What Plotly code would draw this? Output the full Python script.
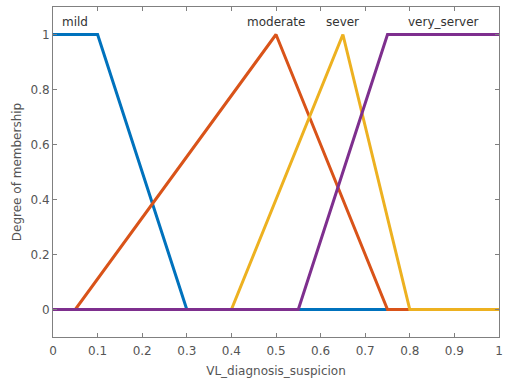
import plotly.graph_objects as go

x_mild = [0, 0.1, 0.3, 1]
y_mild = [1, 1, 0, 0]
x_moderate = [0, 0.05, 0.5, 0.75, 1]
y_moderate = [0, 0, 1, 0, 0]
x_sever = [0, 0.4, 0.65, 0.8, 1]
y_sever = [0, 0, 1, 0, 0]
x_very = [0, 0.55, 0.75, 1]
y_very = [0, 0, 1, 1]

names = ["mild", "moderate", "sever", "very_server"]
label_x = [0.05, 0.5, 0.65, 0.875]
colors = ["#0072BD", "#D95319", "#EDB120", "#7E2F8E"]

xticks = [0, 0.1, 0.2, 0.3, 0.4, 0.5, 0.6, 0.7, 0.8, 0.9, 1]
yticks = [0, 0.2, 0.4, 0.6, 0.8, 1]

FONT = "DejaVu Sans, Liberation Sans, Arial"

fig = go.Figure()
for xs, ys, c, n in zip([x_mild, x_moderate, x_sever, x_very],
                        [y_mild, y_moderate, y_sever, y_very], colors, names):
    fig.add_trace(go.Scatter(x=xs, y=ys, mode="lines", name=n,
                             line=dict(color=c, width=3), showlegend=False))

for lx, n in zip(label_x, names):
    fig.add_annotation(x=lx, y=1.045, text=n, showarrow=False,
                       font=dict(size=12, color="#333333", family=FONT))

axis_common = dict(showline=True, linecolor="#808080", linewidth=1, mirror="ticks",
                   ticks="inside", ticklen=4, tickcolor="#808080", showgrid=False,
                   zeroline=False, automargin=False,
                   tickfont=dict(size=12, color="#555555", family=FONT))

fig.update_xaxes(range=[0, 1], tickvals=xticks, ticktext=[("%g" % v) for v in xticks],
                 ticklabelstandoff=3,
                 title=dict(text="VL_diagnosis_suspicion", font=dict(size=12, color="#555555", family=FONT), standoff=9),
                 **axis_common)
fig.update_yaxes(range=[-0.1, 1.1], tickvals=yticks, ticktext=[("%g" % v) for v in yticks],
                 title=dict(text="Degree of membership", font=dict(size=12, color="#555555", family=FONT), standoff=6),
                 **axis_common)

fig.update_layout(width=505, height=383, margin=dict(l=53, r=6, t=7, b=46),
                  plot_bgcolor="white", paper_bgcolor="white",
                  font=dict(family=FONT, color="#555555"))

fig.write_html("out.html")
